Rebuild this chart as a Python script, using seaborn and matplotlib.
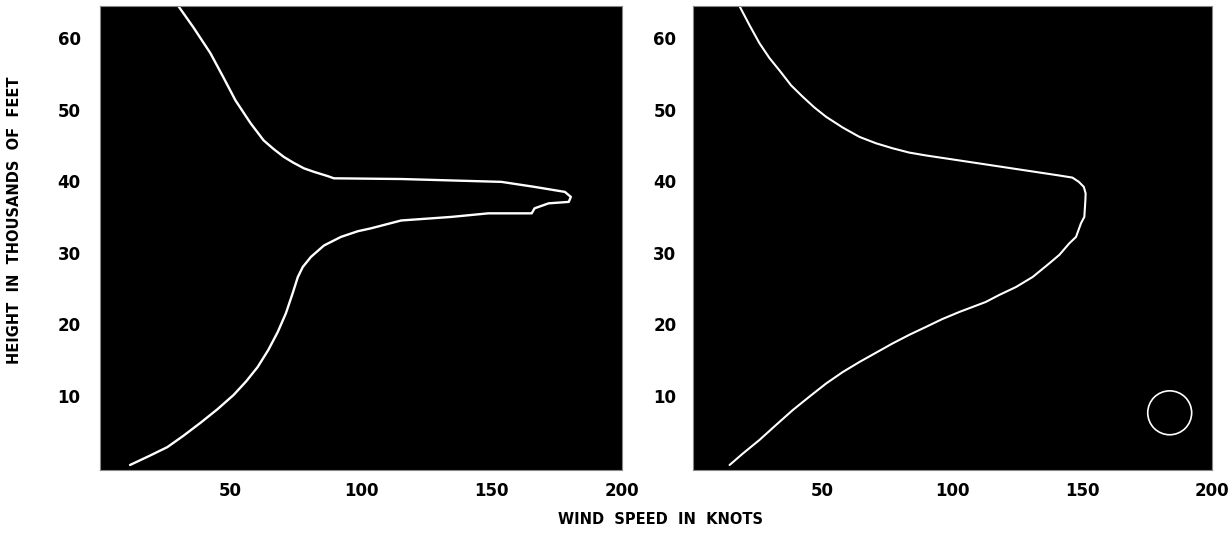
import pandas as pd
import matplotlib
matplotlib.use("Agg")
import matplotlib.pyplot as plt
import seaborn as sns

# left panel profile, traced from bottom up through the jet tip and back up
left_speed = [11.5, 18.5, 25.8, 32, 38.5, 45, 51.2, 56, 60.4, 64.5, 68.1, 71.2, 73.8,
              75.8, 77.7, 80.8, 85.8, 92.3, 98.8, 103.8, 115.4, 134.6, 148.8, 165.4,
              166.5, 171.9, 179.6, 180.4, 178.1, 166.5, 153.8, 134.6, 115.4, 89.6,
              87.3, 82, 78.1, 74, 70.4, 66.5, 62.7, 57.7, 51.9, 47.3, 42.3, 35.8, 30.0]
left_height = [0.3, 1.5, 2.8, 4.4, 6.2, 8.1, 10.1, 12.0, 14.0, 16.4, 18.9, 21.5, 24.3,
               26.6, 28.0, 29.4, 31.0, 32.2, 33.0, 33.4, 34.5, 35.0, 35.5, 35.5,
               36.2, 36.9, 37.1, 37.8, 38.5, 39.2, 39.9, 40.1, 40.3, 40.4,
               40.7, 41.3, 41.8, 42.6, 43.4, 44.5, 45.7, 48.1, 51.3, 54.5, 57.9, 61.5, 64.5]

# right panel profile
right_speed = [14.1, 19.2, 25.6, 32, 38.5, 45, 51.3, 57.7, 64.1, 70.5, 76.9, 83.3, 89.7,
               96, 102.6, 112.8, 118.1, 124.5, 130.9, 137.3, 141.2, 145.0, 147.6, 149.5,
               150.8, 151.2, 151.3, 150.6, 148.7, 146.2, 141.0, 128.2, 115.4, 102.6,
               89.7, 83.3, 76.9, 70.5, 64.1, 57.7, 51.3, 46.8, 42.3, 37.8, 33.3, 29.5,
               25.6, 21.8, 17.9]
right_height = [0.3, 1.9, 3.8, 5.9, 8.0, 9.9, 11.7, 13.3, 14.7, 16.0, 17.3, 18.5, 19.6,
                20.7, 21.7, 23.1, 24.1, 25.2, 26.6, 28.5, 29.7, 31.3, 32.2, 34.1,
                35.0, 37.3, 38.3, 39.2, 39.9, 40.5, 40.8, 41.5, 42.2, 42.9,
                43.6, 44.0, 44.6, 45.3, 46.2, 47.5, 49.0, 50.3, 51.8, 53.4, 55.5, 57.2,
                59.3, 61.8, 64.5]

# small ring in the lower right of the right panel
ring_speed = [183.7]
ring_height = [7.6]

x_ticks = [50, 100, 150, 200]
y_ticks = [10, 20, 30, 40, 50, 60]

left_df = pd.DataFrame({"speed": left_speed, "height": left_height})
right_df = pd.DataFrame({"speed": right_speed, "height": right_height})
ring_df = pd.DataFrame({"speed": ring_speed, "height": ring_height})

sns.set_style("white")
plt.rcParams["font.family"] = ["DejaVu Sans"]

fig = plt.figure(figsize=(12.3, 5.34), dpi=100)
fig.patch.set_facecolor("white")
ax1 = fig.add_axes([100 / 1230, 64 / 534, 522 / 1230, 464 / 534])
ax2 = fig.add_axes([693 / 1230, 64 / 534, 519 / 1230, 464 / 534])

sns.lineplot(data=left_df, x="speed", y="height", sort=False, estimator=None,
             color="white", linewidth=1.7, ax=ax1)
sns.lineplot(data=right_df, x="speed", y="height", sort=False, estimator=None,
             color="white", linewidth=1.5, ax=ax2)
sns.scatterplot(data=ring_df, x="speed", y="height", marker="o", s=1000,
                facecolor="none", edgecolor="white", linewidth=1.2, ax=ax2)

for ax, pad in [(ax1, 14), (ax2, 12)]:
    ax.set_facecolor("black")
    ax.set_xlim(0, 200)
    ax.set_ylim(-0.4, 64.5)
    ax.set_xticks(x_ticks)
    ax.set_yticks(y_ticks)
    ax.tick_params(length=0, labelsize=12, labelcolor="black")
    ax.tick_params(axis="y", pad=pad)
    ax.tick_params(axis="x", pad=9)
    for lab in ax.get_xticklabels() + ax.get_yticklabels():
        lab.set_fontweight("bold")
    for sp in ax.spines.values():
        sp.set_color("#888888")
        sp.set_linewidth(0.8)
    ax.set_xlabel("")
    ax.set_ylabel("")

fig.text(15 / 1230, 1 - 220 / 534, "HEIGHT  IN  THOUSANDS  OF  FEET", rotation=90,
         ha="center", va="center", fontsize=10.5, fontweight="bold", color="black")
fig.text(660 / 1230, 1 - 520 / 534, "WIND  SPEED  IN  KNOTS",
         ha="center", va="center", fontsize=10.5, fontweight="bold", color="black")

fig.savefig("out.png", dpi=100, facecolor="white")
